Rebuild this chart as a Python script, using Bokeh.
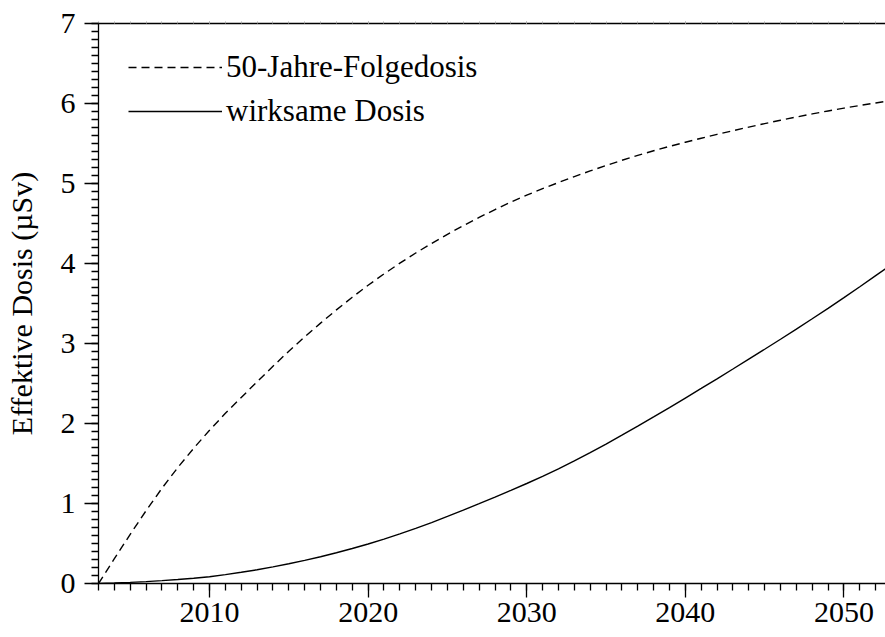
from bokeh.plotting import figure
from bokeh.models import Range1d, FixedTicker, LinearAxis, Legend, LegendItem, CustomJSTickFormatter
from bokeh.embed import file_html
from bokeh.resources import INLINE

years = list(range(2003, 2054))
folgedosis = [0.000, 0.310, 0.615, 0.910, 1.190, 1.450, 1.690, 1.915, 2.128, 2.325,
              2.522, 2.715, 2.904, 3.083, 3.255, 3.420, 3.578, 3.728, 3.870, 4.004,
              4.131, 4.251, 4.365, 4.473, 4.576, 4.674, 4.767, 4.855, 4.935, 5.012,
              5.086, 5.157, 5.225, 5.290, 5.351, 5.409, 5.464, 5.516, 5.566, 5.614,
              5.660, 5.705, 5.749, 5.791, 5.831, 5.870, 5.907, 5.942, 5.975, 6.007, 6.038]
wirksam = [0.000, 0.006, 0.014, 0.024, 0.036, 0.050, 0.066, 0.085, 0.111, 0.140,
           0.172, 0.208, 0.247, 0.289, 0.335, 0.384, 0.437, 0.494, 0.555, 0.620,
           0.689, 0.762, 0.838, 0.917, 0.998, 1.080, 1.164, 1.250, 1.339, 1.434,
           1.533, 1.636, 1.743, 1.854, 1.967, 2.082, 2.199, 2.318, 2.438, 2.559,
           2.681, 2.804, 2.928, 3.053, 3.180, 3.309, 3.440, 3.573, 3.709, 3.848, 3.985]

x_major = [2010, 2020, 2030, 2040, 2050]
x_minor = list(range(2003, 2054))
y_major = [0, 1, 2, 3, 4, 5, 6, 7]
y_minor = [i / 10 for i in range(0, 71)]

FONT = "Liberation Serif"
FS = "30px"

p = figure(width=885, height=637,
           x_range=Range1d(2003, 2052.62), y_range=Range1d(0, 7),
           output_backend="svg", toolbar_location=None,
           min_border_left=98, min_border_right=0, min_border_top=23, min_border_bottom=54)
p.xgrid.visible = False
p.ygrid.visible = False
p.outline_line_color = None
p.background_fill_color = "white"
p.border_fill_color = "white"

r1 = p.line(years, folgedosis, line_color="black", line_width=1.4, line_dash="8 5")
r2 = p.line(years, wirksam, line_color="black", line_width=1.4)

xa = p.xaxis[0]
xa.ticker = FixedTicker(ticks=x_major, minor_ticks=x_minor)
ya = p.yaxis[0]
ya.ticker = FixedTicker(ticks=y_major, minor_ticks=y_minor)
ya.axis_label = "Effektive Dosis (µSv)"

for ax in (xa, ya):
    ax.axis_line_color = "black"
    ax.axis_line_width = 1.3
    ax.major_tick_line_color = "black"
    ax.minor_tick_line_color = "black"
    ax.major_tick_line_width = 1.3
    ax.minor_tick_line_width = 1.3
    ax.major_tick_in = 0
    ax.minor_tick_in = 0
    ax.major_tick_out = 14
    ax.minor_tick_out = 7
    ax.major_label_text_font = FONT
    ax.major_label_text_font_size = FS
    ax.major_label_text_color = "black"
    ax.axis_label_text_font = FONT
    ax.axis_label_text_font_size = FS
    ax.axis_label_text_font_style = "normal"
    ax.axis_label_text_color = "black"

xa.major_label_standoff = 5
ya.major_label_standoff = 9
ya.axis_label_standoff = 20

top = LinearAxis(ticker=FixedTicker(ticks=x_major, minor_ticks=x_minor),
                 formatter=CustomJSTickFormatter(code="return '';"))
top.axis_line_color = "black"
top.axis_line_width = 1.6
top.major_tick_in = 0
top.minor_tick_in = 0
top.major_tick_out = 2
top.minor_tick_out = 2
top.major_tick_line_color = "#aaaaaa"
top.minor_tick_line_color = "#aaaaaa"
top.major_label_standoff = 0
p.add_layout(top, "above")

legend = Legend(items=[LegendItem(label="50-Jahre-Folgedosis", renderers=[r1]),
                       LegendItem(label="wirksame Dosis", renderers=[r2])],
                location=(30, 450))
legend.background_fill_alpha = 0
legend.border_line_color = None
legend.padding = 0
legend.margin = 0
legend.spacing = 0
legend.glyph_width = 94
legend.glyph_height = 44
legend.label_height = 44
legend.label_standoff = 4
legend.label_text_font = FONT
legend.label_text_font_size = "31px"
legend.label_text_color = "black"
p.add_layout(legend, "center")

open("out.html", "w").write(file_html(p, INLINE))
